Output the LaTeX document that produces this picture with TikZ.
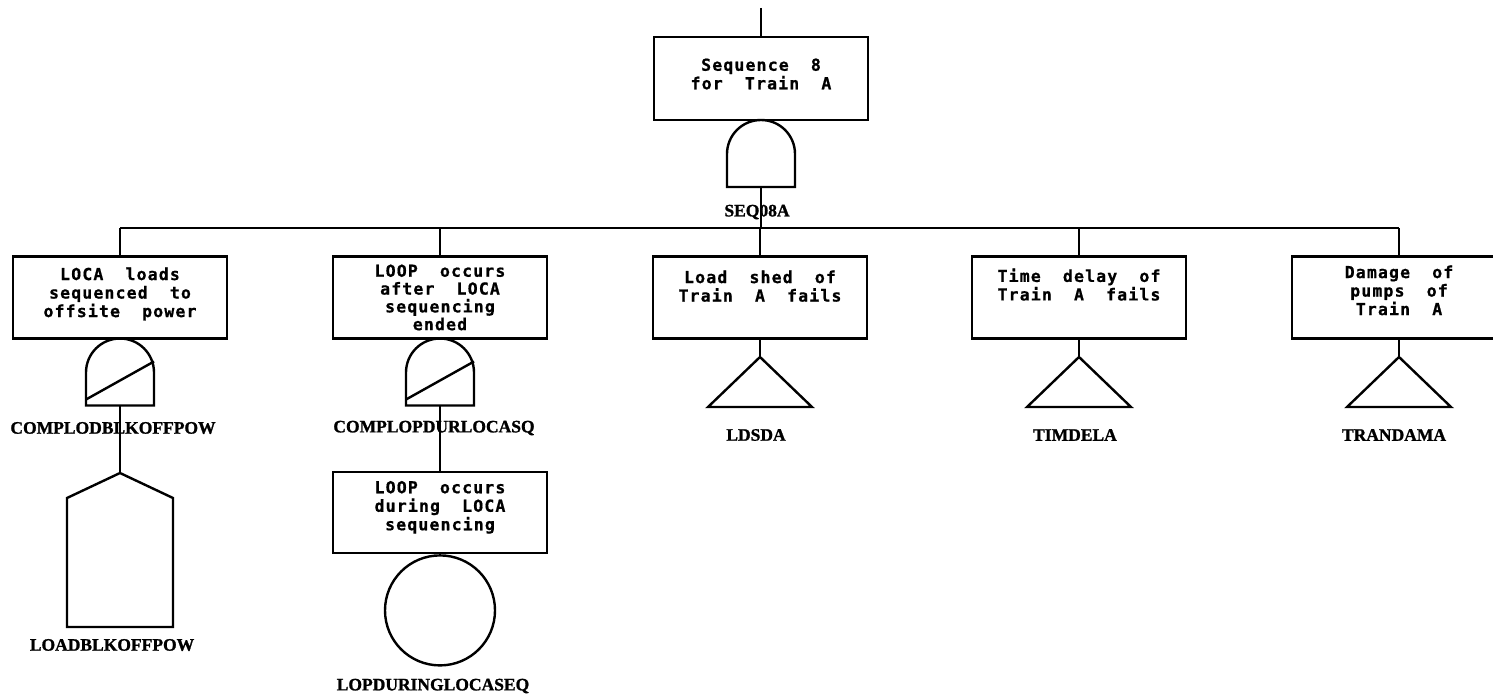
\documentclass[tikz,border=0pt]{standalone}
\usepackage{fontspec}
\newfontfamily\boxfont{DejaVu Sans Mono}[LetterSpace=7, BoldFeatures={FakeBold=0.8}]
\newfontfamily\tagfont{Liberation Serif}[BoldFeatures={FakeBold=1.2}]
\tikzset{
  ln/.style={line width=2.4pt, line join=miter},
  evbox/.style={draw, line width=2.4pt, minimum width=214pt, minimum height=82pt, inner sep=0pt},
  evtext/.style={font=\boxfont\bfseries\fontsize{16.5}{18.5}\selectfont, align=center, inner sep=0pt},
  tag/.style={font=\tagfont\bfseries\fontsize{17.5}{20}\selectfont, inner sep=0pt},
  % AND gate, origin at the middle of its curved top
  andgate/.pic={
    \draw[ln] (-34,67) -- (-34,34) .. controls (-34,15.2) and (-18.8,0) .. (0,0)
      .. controls (18.8,0) and (34,15.2) .. (34,34) -- (34,67) -- cycle;
    \coordinate (-top) at (0,0);
    \coordinate (-bot) at (0,67);
  },
  % AND gate with the diagonal stroke
  inhgate/.pic={
    \draw[ln] (-34,67) -- (-34,34) .. controls (-34,15.2) and (-18.8,0) .. (0,0)
      .. controls (18.8,0) and (34,15.2) .. (34,34) -- (34,67) -- cycle;
    \draw[ln] (-34,61) -- (34,23);
    \coordinate (-top) at (0,0);
    \coordinate (-bot) at (0,67);
  },
  % transfer triangle, origin at the apex
  xfer/.pic={
    \draw[ln] (0,0) -- (52,50) -- (-52,50) -- cycle;
    \coordinate (-top) at (0,0);
  },
  % house event, origin at the roof peak
  house/.pic={
    \draw[ln] (0,0) -- (53,25) -- (53,154) -- (-53,154) -- (-53,25) -- cycle;
    \coordinate (-top) at (0,0);
  },
}
\begin{document}
\begin{tikzpicture}[x=1pt,y=-1pt]
\useasboundingbox (0,0) rectangle (1493,698);
\clip (0,0) rectangle (1493,698);

% top event
\coordinate (stem) at (761,8);
\node[evbox, minimum height=83pt] (top) at (761,78.5) {};
\node[evtext] (toptxt) at (761,74) {Sequence~~8\\for~~Train~~A};
\draw[ln] (stem) -- (top.north);
\pic (g0) at (761,120) {andgate};
\node[tag] (g0tag) at (757,212) {SEQ08A};

% distribution bar
\coordinate (busL) at (120,228);
\coordinate (busR) at (1399,228);
\draw[ln] (busL) -- (busR);
\draw[ln] (g0-bot) -- (g0-bot |- busL);

% second level events
\node[evbox] (b1) at (120,297.5) {};
\node[evbox] (b2) at (440,297.5) {};
\node[evbox] (b3) at (760,297.5) {};
\node[evbox] (b4) at (1079,297.5) {};
\node[evbox] (b5) at (1399,297.5) {};
\foreach \b in {b1,b2,b3,b4,b5}{
  \draw[ln] (\b.north) -- (\b.north |- busL);
}

\node[evtext, anchor=north] (t1) at ([yshift=-12pt]b1.north) {LOCA~~loads\\sequenced~~to\\offsite~~power};
\node[evtext, anchor=north, font=\boxfont\bfseries\fontsize{16.5}{17.8}\selectfont] (t2) at ([yshift=-9pt]b2.north) {LOOP~~occurs\\after~~LOCA\\sequencing\\ended};
\node[evtext, anchor=north] (t3) at ([yshift=-15pt]b3.north) {Load~~shed~~of\\Train~~A~~fails};
\node[evtext, anchor=north] (t4) at ([yshift=-13pt]b4.north) {Time~~delay~~of\\Train~~A~~fails};
\node[evtext, anchor=north] (t5) at ([yshift=-10pt]b5.north) {Damage~~of\\pumps~~of\\Train~~A};

% branch 1
\pic (g1) at (120,338.5) {inhgate};
\node[tag] (g1tag) at (113,428) {COMPLODBLKOFFPOW};
\pic (h1) at (120,473) {house};
\draw[ln] (g1-bot) -- (h1-top);
\node[tag] (h1tag) at (112,645) {LOADBLKOFFPOW};

% branch 2
\pic (g2) at (440,338.5) {inhgate};
\node[tag] (g2tag) at (434,428) {COMPLOPDURLOCASQ};
\node[evbox, minimum height=81pt] (b6) at (440,512.5) {};
\node[evtext, anchor=north] (t6) at ([yshift=-10pt]b6.north) {LOOP~~occurs\\during~~LOCA\\sequencing};
\draw[ln] (g2-bot) -- (b6.north);
\node[draw, circle, line width=2.4pt, minimum size=110pt, inner sep=0pt, anchor=north] (c1) at (b6.south) {};
\node[tag] (c1tag) at (433,686) {LOPDURINGLOCASEQ};

% transfers
\pic (x3) at (760,357) {xfer};
\draw[ln] (b3.south) -- (x3-top);
\node[tag] (x3tag) at (756,435) {LDSDA};
\pic (x4) at (1079,357) {xfer};
\draw[ln] (b4.south) -- (x4-top);
\node[tag] (x4tag) at (1075,435) {TIMDELA};
\pic (x5) at (1399,357) {xfer};
\draw[ln] (b5.south) -- (x5-top);
\node[tag] (x5tag) at (1394,435) {TRANDAMA};
\end{tikzpicture}
\end{document}
